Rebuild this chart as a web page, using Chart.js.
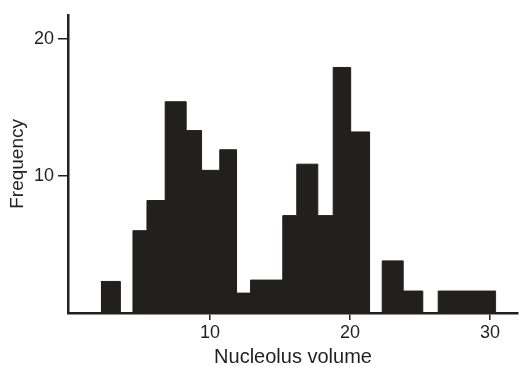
<!DOCTYPE html>
<html>
<head>
<meta charset="utf-8">
<script src="https://cdn.jsdelivr.net/npm/chart.js@4/dist/chart.umd.min.js"></script>
<style>
  html, body { margin: 0; padding: 0; background: #fff; }
  canvas { display: block; }
</style>
</head>
<body>
<canvas id="hist" width="519" height="367"></canvas>
<script>
// lower edge of each bin, plus the upper edge of the last one
const binEdges = [2.2, 3.6, 4.5, 5.5, 6.8, 8.3, 9.4, 10.7, 11.9, 12.9, 15.2, 16.2, 17.7, 18.8, 20.05, 21.4, 22.3, 23.8, 25.2, 26.3, 30.4];
const frequencies = [2.3, 0, 6.0, 8.2, 15.4, 13.3, 10.4, 11.9, 1.45, 2.4, 7.1, 10.85, 7.1, 17.9, 13.2, 0, 3.8, 1.6, 0, 1.6];
const xTickValues = [10, 20, 30];
const yTickValues = [10, 20];

const ink = '#221f1f';

// step points: each frequency holds from its lower edge to the next edge
const points = frequencies.map((f, i) => ({ x: binEdges[i], y: f }));
points.push({ x: binEdges[binEdges.length - 1], y: 0 });

const ctx = document.getElementById('hist').getContext('2d');
new Chart(ctx, {
  type: 'line',
  data: {
    datasets: [{
      data: points,
      stepped: 'before',
      fill: 'origin',
      backgroundColor: ink,
      borderColor: ink,
      borderWidth: 1,
      pointRadius: 0
    }]
  },
  options: {
    responsive: false,
    animation: false,
    layout: { padding: { top: 13, right: 1, left: 0, bottom: 0 } },
    plugins: { legend: { display: false }, tooltip: { enabled: false } },
    scales: {
      x: {
        type: 'linear',
        min: -0.14,
        max: 32,
        afterFit: s => { s.height = 54; },
        afterBuildTicks: s => { s.ticks = xTickValues.map(v => ({ value: v })); },
        border: { display: true, color: ink, width: 2.5 },
        grid: { drawOnChartArea: false, drawTicks: true, tickLength: 7, color: ink, lineWidth: 1.5 },
        ticks: { color: ink, padding: 2, maxRotation: 0, font: { family: 'Liberation Sans, Arial, sans-serif', size: 18 } },
        title: {
          display: true,
          text: 'Nucleolus volume',
          color: ink,
          padding: { top: 0, bottom: 0 },
          font: { family: 'Liberation Sans, Arial, sans-serif', size: 20, lineHeight: 1 }
        }
      },
      y: {
        min: 0,
        max: 21.74,
        afterFit: s => { s.width = 68; },
        afterBuildTicks: s => { s.ticks = yTickValues.map(v => ({ value: v })); },
        border: { display: true, color: ink, width: 2.5 },
        grid: { drawOnChartArea: false, drawTicks: true, tickLength: 10, color: ink, lineWidth: 1.5 },
        ticks: { color: ink, padding: 4, font: { family: 'Liberation Sans, Arial, sans-serif', size: 18 } },
        title: {
          display: true,
          text: 'Frequency',
          color: ink,
          padding: { top: 8, bottom: 0 },
          font: { family: 'Liberation Sans, Arial, sans-serif', size: 19, lineHeight: 1 }
        }
      }
    }
  }
});
</script>
</body>
</html>
